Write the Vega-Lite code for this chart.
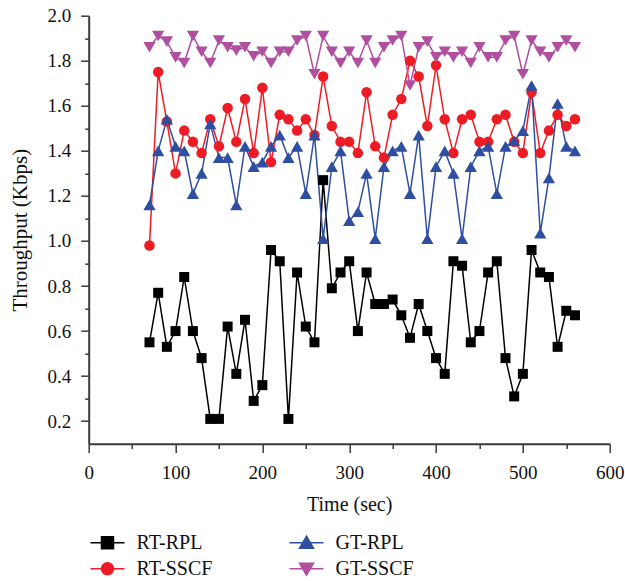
{
  "$schema": "https://vega.github.io/schema/vega-lite/v6.json",
  "width": 521,
  "height": 428,
  "autosize": {"type": "none"},
  "padding": {"left": 88.7, "top": 15.7, "right": 15.3, "bottom": 137.3},
  "config": {
    "font": "Liberation Serif",
    "view": {"stroke": null},
    "axis": {"grid": false, "domainColor": "#3a3a3a", "domainWidth": 2, "tickColor": "#3a3a3a", "tickWidth": 1.5, "labelColor": "#111", "titleColor": "#111", "labelFont": "Liberation Serif", "titleFont": "Liberation Serif", "labelFontSize": 19, "titleFontSize": 20, "titleFontWeight": "normal"}
  },
  "data": {"values": [
    {"t":70,"v":0.55,"s":"RT-RPL"},{"t":80,"v":0.77,"s":"RT-RPL"},{"t":90,"v":0.53,"s":"RT-RPL"},{"t":100,"v":0.60,"s":"RT-RPL"},{"t":110,"v":0.84,"s":"RT-RPL"},{"t":120,"v":0.60,"s":"RT-RPL"},{"t":130,"v":0.48,"s":"RT-RPL"},{"t":140,"v":0.21,"s":"RT-RPL"},{"t":150,"v":0.21,"s":"RT-RPL"},{"t":160,"v":0.62,"s":"RT-RPL"},
    {"t":170,"v":0.41,"s":"RT-RPL"},{"t":180,"v":0.65,"s":"RT-RPL"},{"t":190,"v":0.29,"s":"RT-RPL"},{"t":200,"v":0.36,"s":"RT-RPL"},{"t":210,"v":0.96,"s":"RT-RPL"},{"t":220,"v":0.91,"s":"RT-RPL"},{"t":230,"v":0.21,"s":"RT-RPL"},{"t":240,"v":0.86,"s":"RT-RPL"},{"t":250,"v":0.62,"s":"RT-RPL"},{"t":260,"v":0.55,"s":"RT-RPL"},
    {"t":270,"v":1.27,"s":"RT-RPL"},{"t":280,"v":0.79,"s":"RT-RPL"},{"t":290,"v":0.86,"s":"RT-RPL"},{"t":300,"v":0.91,"s":"RT-RPL"},{"t":310,"v":0.60,"s":"RT-RPL"},{"t":320,"v":0.86,"s":"RT-RPL"},{"t":330,"v":0.72,"s":"RT-RPL"},{"t":340,"v":0.72,"s":"RT-RPL"},{"t":350,"v":0.74,"s":"RT-RPL"},{"t":360,"v":0.67,"s":"RT-RPL"},
    {"t":370,"v":0.57,"s":"RT-RPL"},{"t":380,"v":0.72,"s":"RT-RPL"},{"t":390,"v":0.60,"s":"RT-RPL"},{"t":400,"v":0.48,"s":"RT-RPL"},{"t":410,"v":0.41,"s":"RT-RPL"},{"t":420,"v":0.91,"s":"RT-RPL"},{"t":430,"v":0.89,"s":"RT-RPL"},{"t":440,"v":0.55,"s":"RT-RPL"},{"t":450,"v":0.60,"s":"RT-RPL"},{"t":460,"v":0.86,"s":"RT-RPL"},
    {"t":470,"v":0.91,"s":"RT-RPL"},{"t":480,"v":0.48,"s":"RT-RPL"},{"t":490,"v":0.31,"s":"RT-RPL"},{"t":500,"v":0.41,"s":"RT-RPL"},{"t":510,"v":0.96,"s":"RT-RPL"},{"t":520,"v":0.86,"s":"RT-RPL"},{"t":530,"v":0.84,"s":"RT-RPL"},{"t":540,"v":0.53,"s":"RT-RPL"},{"t":550,"v":0.69,"s":"RT-RPL"},{"t":560,"v":0.67,"s":"RT-RPL"},

    {"t":70,"v":0.98,"s":"RT-SSCF"},{"t":80,"v":1.75,"s":"RT-SSCF"},{"t":90,"v":1.53,"s":"RT-SSCF"},{"t":100,"v":1.30,"s":"RT-SSCF"},{"t":110,"v":1.49,"s":"RT-SSCF"},{"t":120,"v":1.44,"s":"RT-SSCF"},{"t":130,"v":1.39,"s":"RT-SSCF"},{"t":140,"v":1.54,"s":"RT-SSCF"},{"t":150,"v":1.42,"s":"RT-SSCF"},{"t":160,"v":1.59,"s":"RT-SSCF"},
    {"t":170,"v":1.44,"s":"RT-SSCF"},{"t":180,"v":1.63,"s":"RT-SSCF"},{"t":190,"v":1.39,"s":"RT-SSCF"},{"t":200,"v":1.68,"s":"RT-SSCF"},{"t":210,"v":1.35,"s":"RT-SSCF"},{"t":220,"v":1.56,"s":"RT-SSCF"},{"t":230,"v":1.54,"s":"RT-SSCF"},{"t":240,"v":1.49,"s":"RT-SSCF"},{"t":250,"v":1.54,"s":"RT-SSCF"},{"t":260,"v":1.47,"s":"RT-SSCF"},
    {"t":270,"v":1.73,"s":"RT-SSCF"},{"t":280,"v":1.51,"s":"RT-SSCF"},{"t":290,"v":1.44,"s":"RT-SSCF"},{"t":300,"v":1.44,"s":"RT-SSCF"},{"t":310,"v":1.39,"s":"RT-SSCF"},{"t":320,"v":1.66,"s":"RT-SSCF"},{"t":330,"v":1.42,"s":"RT-SSCF"},{"t":340,"v":1.37,"s":"RT-SSCF"},{"t":350,"v":1.56,"s":"RT-SSCF"},{"t":360,"v":1.63,"s":"RT-SSCF"},
    {"t":370,"v":1.80,"s":"RT-SSCF"},{"t":380,"v":1.73,"s":"RT-SSCF"},{"t":390,"v":1.51,"s":"RT-SSCF"},{"t":400,"v":1.78,"s":"RT-SSCF"},{"t":410,"v":1.54,"s":"RT-SSCF"},{"t":420,"v":1.39,"s":"RT-SSCF"},{"t":430,"v":1.54,"s":"RT-SSCF"},{"t":440,"v":1.56,"s":"RT-SSCF"},{"t":450,"v":1.44,"s":"RT-SSCF"},{"t":460,"v":1.44,"s":"RT-SSCF"},
    {"t":470,"v":1.54,"s":"RT-SSCF"},{"t":480,"v":1.56,"s":"RT-SSCF"},{"t":490,"v":1.44,"s":"RT-SSCF"},{"t":500,"v":1.39,"s":"RT-SSCF"},{"t":510,"v":1.66,"s":"RT-SSCF"},{"t":520,"v":1.39,"s":"RT-SSCF"},{"t":530,"v":1.49,"s":"RT-SSCF"},{"t":540,"v":1.56,"s":"RT-SSCF"},{"t":550,"v":1.51,"s":"RT-SSCF"},{"t":560,"v":1.54,"s":"RT-SSCF"},

    {"t":70,"v":1.16,"s":"GT-RPL"},{"t":80,"v":1.40,"s":"GT-RPL"},{"t":90,"v":1.54,"s":"GT-RPL"},{"t":100,"v":1.42,"s":"GT-RPL"},{"t":110,"v":1.40,"s":"GT-RPL"},{"t":120,"v":1.21,"s":"GT-RPL"},{"t":130,"v":1.30,"s":"GT-RPL"},{"t":140,"v":1.52,"s":"GT-RPL"},{"t":150,"v":1.37,"s":"GT-RPL"},{"t":160,"v":1.37,"s":"GT-RPL"},
    {"t":170,"v":1.16,"s":"GT-RPL"},{"t":180,"v":1.42,"s":"GT-RPL"},{"t":190,"v":1.33,"s":"GT-RPL"},{"t":200,"v":1.35,"s":"GT-RPL"},{"t":210,"v":1.42,"s":"GT-RPL"},{"t":220,"v":1.47,"s":"GT-RPL"},{"t":230,"v":1.37,"s":"GT-RPL"},{"t":240,"v":1.42,"s":"GT-RPL"},{"t":250,"v":1.21,"s":"GT-RPL"},{"t":260,"v":1.47,"s":"GT-RPL"},
    {"t":270,"v":1.01,"s":"GT-RPL"},{"t":280,"v":1.33,"s":"GT-RPL"},{"t":290,"v":1.40,"s":"GT-RPL"},{"t":300,"v":1.09,"s":"GT-RPL"},{"t":310,"v":1.13,"s":"GT-RPL"},{"t":320,"v":1.30,"s":"GT-RPL"},{"t":330,"v":1.01,"s":"GT-RPL"},{"t":340,"v":1.33,"s":"GT-RPL"},{"t":350,"v":1.40,"s":"GT-RPL"},{"t":360,"v":1.42,"s":"GT-RPL"},
    {"t":370,"v":1.21,"s":"GT-RPL"},{"t":380,"v":1.47,"s":"GT-RPL"},{"t":390,"v":1.01,"s":"GT-RPL"},{"t":400,"v":1.33,"s":"GT-RPL"},{"t":410,"v":1.40,"s":"GT-RPL"},{"t":420,"v":1.30,"s":"GT-RPL"},{"t":430,"v":1.01,"s":"GT-RPL"},{"t":440,"v":1.33,"s":"GT-RPL"},{"t":450,"v":1.40,"s":"GT-RPL"},{"t":460,"v":1.42,"s":"GT-RPL"},
    {"t":470,"v":1.21,"s":"GT-RPL"},{"t":480,"v":1.42,"s":"GT-RPL"},{"t":490,"v":1.445,"s":"GT-RPL"},{"t":500,"v":1.49,"s":"GT-RPL"},{"t":510,"v":1.69,"s":"GT-RPL"},{"t":520,"v":1.035,"s":"GT-RPL"},{"t":530,"v":1.28,"s":"GT-RPL"},{"t":540,"v":1.61,"s":"GT-RPL"},{"t":550,"v":1.42,"s":"GT-RPL"},{"t":560,"v":1.40,"s":"GT-RPL"},

    {"t":70,"v":1.86,"s":"GT-SSCF"},{"t":80,"v":1.91,"s":"GT-SSCF"},{"t":90,"v":1.885,"s":"GT-SSCF"},{"t":100,"v":1.815,"s":"GT-SSCF"},{"t":110,"v":1.79,"s":"GT-SSCF"},{"t":120,"v":1.91,"s":"GT-SSCF"},{"t":130,"v":1.84,"s":"GT-SSCF"},{"t":140,"v":1.79,"s":"GT-SSCF"},{"t":150,"v":1.89,"s":"GT-SSCF"},{"t":160,"v":1.86,"s":"GT-SSCF"},
    {"t":170,"v":1.845,"s":"GT-SSCF"},{"t":180,"v":1.86,"s":"GT-SSCF"},{"t":190,"v":1.82,"s":"GT-SSCF"},{"t":200,"v":1.84,"s":"GT-SSCF"},{"t":210,"v":1.79,"s":"GT-SSCF"},{"t":220,"v":1.84,"s":"GT-SSCF"},{"t":230,"v":1.84,"s":"GT-SSCF"},{"t":240,"v":1.89,"s":"GT-SSCF"},{"t":250,"v":1.91,"s":"GT-SSCF"},{"t":260,"v":1.74,"s":"GT-SSCF"},
    {"t":270,"v":1.91,"s":"GT-SSCF"},{"t":280,"v":1.84,"s":"GT-SSCF"},{"t":290,"v":1.79,"s":"GT-SSCF"},{"t":300,"v":1.84,"s":"GT-SSCF"},{"t":310,"v":1.79,"s":"GT-SSCF"},{"t":320,"v":1.89,"s":"GT-SSCF"},{"t":330,"v":1.79,"s":"GT-SSCF"},{"t":340,"v":1.86,"s":"GT-SSCF"},{"t":350,"v":1.89,"s":"GT-SSCF"},{"t":360,"v":1.91,"s":"GT-SSCF"},
    {"t":370,"v":1.69,"s":"GT-SSCF"},{"t":380,"v":1.86,"s":"GT-SSCF"},{"t":390,"v":1.885,"s":"GT-SSCF"},{"t":400,"v":1.815,"s":"GT-SSCF"},{"t":410,"v":1.84,"s":"GT-SSCF"},{"t":420,"v":1.815,"s":"GT-SSCF"},{"t":430,"v":1.84,"s":"GT-SSCF"},{"t":440,"v":1.79,"s":"GT-SSCF"},{"t":450,"v":1.86,"s":"GT-SSCF"},{"t":460,"v":1.815,"s":"GT-SSCF"},
    {"t":470,"v":1.815,"s":"GT-SSCF"},{"t":480,"v":1.89,"s":"GT-SSCF"},{"t":490,"v":1.91,"s":"GT-SSCF"},{"t":500,"v":1.74,"s":"GT-SSCF"},{"t":510,"v":1.89,"s":"GT-SSCF"},{"t":520,"v":1.84,"s":"GT-SSCF"},{"t":530,"v":1.815,"s":"GT-SSCF"},{"t":540,"v":1.86,"s":"GT-SSCF"},{"t":550,"v":1.89,"s":"GT-SSCF"},{"t":560,"v":1.86,"s":"GT-SSCF"}
  ]},
  "encoding": {
    "x": {"field": "t", "type": "quantitative", "scale": {"domain": [0, 600], "nice": false},
      "axis": {"title": "Time (sec)", "values": [0,50,100,150,200,250,300,350,400,450,500,550,600],
        "labelExpr": "datum.value % 100 == 0 ? datum.label : ''",
        "tickSize": {"condition": {"test": "datum.value % 100 == 0", "value": 8.7}, "value": 4.7},
        "labelPadding": 11, "titlePadding": 12, "labelFlush": false}},
    "y": {"field": "v", "type": "quantitative", "scale": {"domain": [0.1, 2.0], "nice": false, "zero": false},
      "axis": {"title": "Throughput (Kbps)", "values": [0.2,0.3,0.4,0.5,0.6,0.7,0.8,0.9,1.0,1.1,1.2,1.3,1.4,1.5,1.6,1.7,1.8,1.9,2.0],
        "labelExpr": "round(datum.value*10) % 2 == 0 ? format(datum.value, '.1f') : ''",
        "tickSize": {"condition": {"test": "round(datum.value*10) % 2 == 0", "value": 8}, "value": 4},
        "labelPadding": 10, "titlePadding": 16, "titleFontSize": 21, "labelFlush": false}},
    "color": {"field": "s", "type": "nominal",
      "scale": {"domain": ["RT-RPL","GT-RPL","RT-SSCF","GT-SSCF"], "range": ["#000000","#2E4EA1","#ED1C24","#B04FA0"]},
      "legend": {"title": null, "orient": "none", "legendX": 7.8, "legendY": 516, "direction": "horizontal", "columns": 2,
        "columnPadding": 74, "rowPadding": 5, "symbolSize": 400, "labelOffset": 18,
        "labelFont": "Liberation Serif", "labelFontSize": 20, "labelColor": "#111", "labelLimit": 300,
        "encode": {"symbols": {"update": {
          "shape": {"signal": "datum.value === 'RT-RPL' ? 'M-1.7,0H1.7M-0.6,-0.6H0.6V0.6H-0.6Z' : datum.value === 'RT-SSCF' ? 'M-1.7,0H1.7M0.6,0A0.6,0.6,0,1,1,-0.6,0A0.6,0.6,0,1,1,0.6,0Z' : datum.value === 'GT-RPL' ? 'M-1.7,0H1.7M0,-0.65L0.7,0.55H-0.7Z' : 'M-1.7,0H1.7M0,0.65L0.7,-0.55H-0.7Z'"},
          "fill": {"signal": "datum.value === 'RT-RPL' ? '#000000' : datum.value === 'RT-SSCF' ? '#ED1C24' : datum.value === 'GT-RPL' ? '#2E4EA1' : '#B04FA0'"},
          "stroke": {"signal": "datum.value === 'RT-RPL' ? '#000000' : datum.value === 'RT-SSCF' ? '#ED1C24' : datum.value === 'GT-RPL' ? '#2E4EA1' : '#B04FA0'"},
          "strokeWidth": {"value": 1.5},
          "opacity": {"value": 1}}}}}}
  },
  "layer": [
    {"mark": {"type": "line", "strokeWidth": 1.5}},
    {"mark": {"type": "point", "filled": true, "opacity": 1},
     "encoding": {
       "shape": {"condition": [{"test": "datum.s === 'RT-RPL'", "value": "square"}, {"test": "datum.s === 'GT-RPL'", "value": "triangle-up"}, {"test": "datum.s === 'RT-SSCF'", "value": "circle"}], "value": "triangle-down"},
       "size": {"condition": [{"test": "datum.s === 'RT-RPL'", "value": 100}, {"test": "datum.s === 'RT-SSCF'", "value": 110}], "value": 150}
     }}
  ]
}
